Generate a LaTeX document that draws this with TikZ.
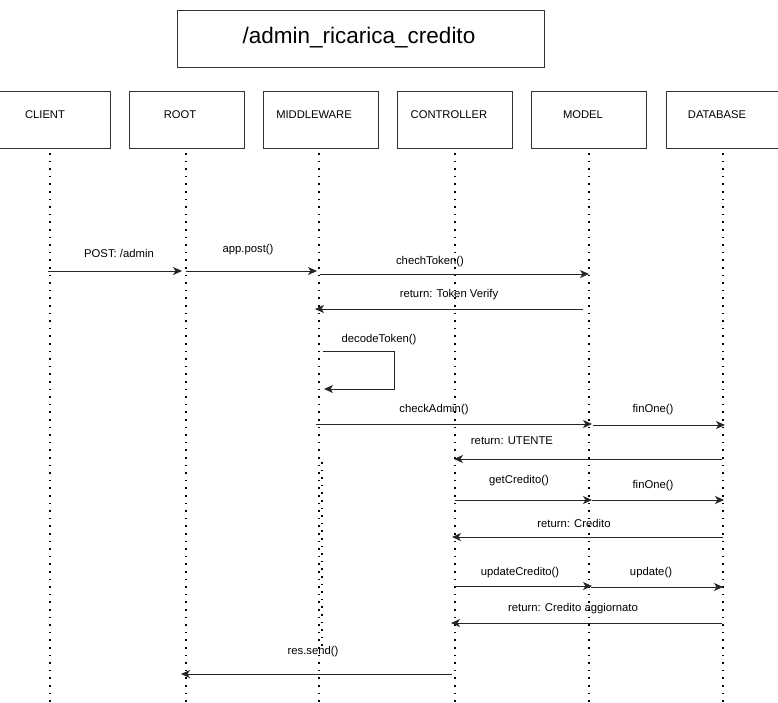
\documentclass[tikz,border=0pt]{standalone}
\usepackage{fontspec}
\setmainfont{Liberation Sans}
\usetikzlibrary{arrows.meta}
\begin{document}
\begin{tikzpicture}[x=1pt,y=-1pt,
  box/.style={draw=black!80,line width=1pt,minimum width=115pt,minimum height=57pt,anchor=north west,inner sep=0pt},
  boxlabel/.style={font=\fontsize{11.2}{12}\selectfont},
  life/.style={line width=2pt,dash pattern=on 1.6pt off 6pt,black},
  msg/.style={draw=black!85,line width=1pt,-{Stealth[length=9pt,width=8pt,inset=2.5pt]}},
  lbl/.style={font=\fontsize{11.3}{12}\selectfont,inner sep=0pt}]
\useasboundingbox (0,0) rectangle (778,702);
\fill[white] (0,0) rectangle (778,702);
% title
\node[draw=black!80,line width=1pt,minimum width=367pt,minimum height=57pt,anchor=north west,inner sep=0pt] (title) at (177,10) {};
\node[font=\fontsize{22.5}{24}\selectfont] (titletext) at (359,38) {/admin\_ricarica\_credito};
% lifeline heads
\node[box,minimum width=111pt] (client) at (-1,91) {};
\node[box] (root) at (129,91) {};
\node[box] (mw) at (263,91) {};
\node[box] (ctrl) at (397,91) {};
\node[box] (model) at (531,91) {};
\node[box] (db) at (666,91) {};
\node[boxlabel] (tclient) at (45,115) {CLIENT};
\node[boxlabel] (troot) at (180,115) {ROOT};
\node[boxlabel] (tmw) at (314,115) {MIDDLEWARE};
\node[boxlabel] (tctrl) at (449,115) {CONTROLLER};
\node[boxlabel] (tmodel) at (583,115) {MODEL};
\node[boxlabel] (tdb) at (717,115) {DATABASE};
% lifelines
\coordinate (lc1) at (50,153); \coordinate (lc2) at (50,702);
\coordinate (lr1) at (186,153); \coordinate (lr2) at (186,702);
\coordinate (lm1) at (319,153); \coordinate (lm2) at (319,702);
\coordinate (lm3) at (322,462); \coordinate (lm4) at (322,652);
\coordinate (lt1) at (455,153); \coordinate (lt2) at (455,702);
\coordinate (lo1) at (589,153); \coordinate (lo2) at (589,702);
\coordinate (ld1) at (723,153); \coordinate (ld2) at (723,702);
\draw[life] (lc1) -- (lc2);
\draw[life] (lr1) -- (lr2);
\draw[life] (lm1) -- (lm2);
\draw[life] (lm3) -- (lm4);
\draw[life] (lt1) -- (lt2);
\draw[life] (lo1) -- (lo2);
\draw[life] (ld1) -- (ld2);
% messages
\coordinate (a1) at (48,271); \coordinate (b1) at (182,271);
\draw[msg] (a1) -- (b1);
\node[lbl] (l1) at (119,253) {POST: /admin};
\coordinate (a2) at (186,271); \coordinate (b2) at (317,271);
\draw[msg] (a2) -- (b2);
\node[lbl] (l2) at (248,250) {app.post()};
\coordinate (a3) at (320,274); \coordinate (b3) at (589,274);
\draw[msg] (a3) -- (b3);
\node[lbl] (l3) at (430,262) {chechToken()};
\coordinate (a4) at (583,309); \coordinate (b4) at (315,309);
\draw[msg] (a4) -- (b4);
\node[lbl] (l4) at (449,295) {return: Token Verify};
\coordinate (a5) at (323,351); \coordinate (c5) at (394,351); \coordinate (d5) at (394,389); \coordinate (b5) at (324,389);
\draw[msg] (a5) -- (c5) -- (d5) -- (b5);
\node[lbl] (l5) at (379,340) {decodeToken()};
\coordinate (a6) at (316,424); \coordinate (b6) at (592,424);
\draw[msg] (a6) -- (b6);
\node[lbl] (l6) at (434,410) {checkAdmin()};
\coordinate (a7) at (593,425); \coordinate (b7) at (725,425);
\draw[msg] (a7) -- (b7);
\node[lbl] (l7) at (653,410) {finOne()};
\coordinate (a8) at (722,459); \coordinate (b8) at (454,459);
\draw[msg] (a8) -- (b8);
\node[lbl] (l8) at (512,441) {return: UTENTE};
\coordinate (a9) at (455,500); \coordinate (b9) at (592,500);
\draw[msg] (a9) -- (b9);
\node[lbl] (l9) at (519,481) {getCredito()};
\coordinate (a10) at (592,500); \coordinate (b10) at (724,500);
\draw[msg] (a10) -- (b10);
\node[lbl] (l10) at (653,486) {finOne()};
\coordinate (a11) at (723,537); \coordinate (b11) at (452,537);
\draw[msg] (a11) -- (b11);
\node[lbl] (l11) at (574,523) {return: Credito};
\coordinate (a12) at (455,586); \coordinate (b12) at (592,586);
\draw[msg] (a12) -- (b12);
\node[lbl] (l12) at (520,573) {updateCredito()};
\coordinate (a13) at (591,587); \coordinate (b13) at (723,587);
\draw[msg] (a13) -- (b13);
\node[lbl] (l13) at (651,573) {update()};
\coordinate (a14) at (722,623); \coordinate (b14) at (451,623);
\draw[msg] (a14) -- (b14);
\node[lbl] (l14) at (573,609) {return: Credito aggiornato};
\coordinate (a15) at (452,674); \coordinate (b15) at (181,674);
\draw[msg] (a15) -- (b15);
\node[lbl] (l15) at (313,652) {res.send()};
\end{tikzpicture}
\end{document}
